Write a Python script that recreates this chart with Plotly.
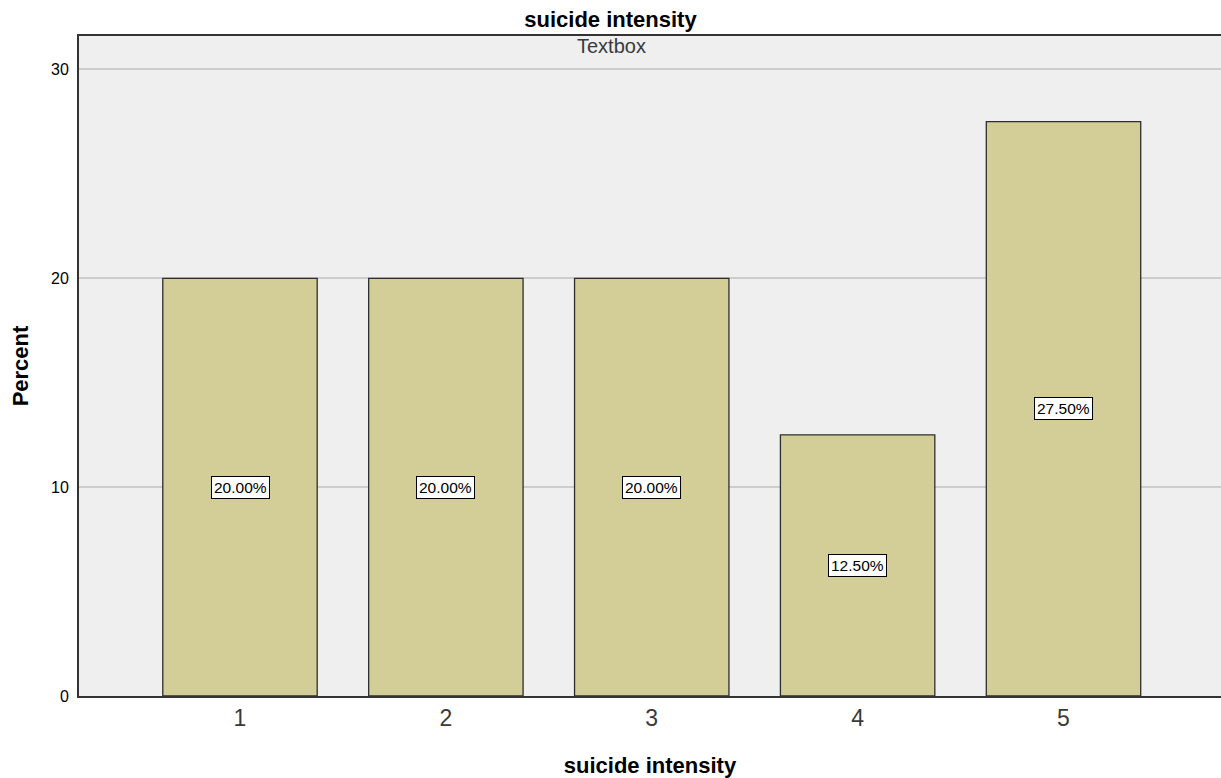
import plotly.graph_objects as go

categories = [1, 2, 3, 4, 5]
percents = [20.0, 20.0, 20.0, 12.5, 27.5]
label_texts = ["20.00%", "20.00%", "20.00%", "12.50%", "27.50%"]
y_ticks = [0, 10, 20, 30]

FONT = "Liberation Sans, Arial, sans-serif"

fig = go.Figure()
fig.add_trace(go.Bar(
    x=categories, y=percents, width=0.75,
    marker=dict(color="#d3cd98", line=dict(color="#2e2e2e", width=1.3)),
    hoverinfo="skip",
))

for c, p, t in zip(categories, percents, label_texts):
    fig.add_annotation(
        x=c, y=p / 2, text=t, showarrow=False,
        font=dict(family=FONT, size=15.5, color="#000000"),
        bgcolor="#ffffff", bordercolor="#000000", borderwidth=1, borderpad=2,
    )

fig.add_annotation(
    x=0.4667, xref="paper", y=1.0, yref="paper", yanchor="top", yshift=3,
    text="Textbox", showarrow=False,
    font=dict(family=FONT, size=20, color="#3a3a3a"),
)

fig.update_layout(
    width=1221, height=778,
    margin=dict(l=79, r=0, t=36, b=82),
    paper_bgcolor="#ffffff",
    plot_bgcolor="#efefef",
    showlegend=False,
    hovermode=False,
    title=dict(text="<b>suicide intensity</b>", x=0.5, xanchor="center",
               y=0.9755, yanchor="middle",
               font=dict(family=FONT, size=22, color="#000000")),
    bargap=0.25,
)

fig.update_xaxes(
    range=[0.218, 5.765],
    tickvals=categories, ticktext=[str(c) for c in categories],
    tickfont=dict(family=FONT, size=23, color="#3a3a3a"),
    showgrid=False, zeroline=False,
    showline=True, linecolor="#333333", linewidth=2, mirror=True,
    ticks="", ticklen=0,
    title=dict(text="<b>suicide intensity</b>", standoff=28,
               font=dict(family=FONT, size=22, color="#000000")),
)

fig.update_yaxes(
    range=[0, 31.6],
    tickvals=y_ticks,
    tickfont=dict(family=FONT, size=16, color="#000000"),
    showgrid=True, gridcolor="#cdcdcd", gridwidth=2,
    zeroline=False,
    showline=True, linecolor="#333333", linewidth=2,
    ticks="", ticklabelstandoff=5,
    title=dict(text="<b>Percent</b>", standoff=16,
               font=dict(family=FONT, size=22, color="#000000")),
)

fig.write_html(
    "out.html",
    config={"displayModeBar": False},
    post_script="document.body.style.margin='0';document.body.style.overflow='hidden';",
)
